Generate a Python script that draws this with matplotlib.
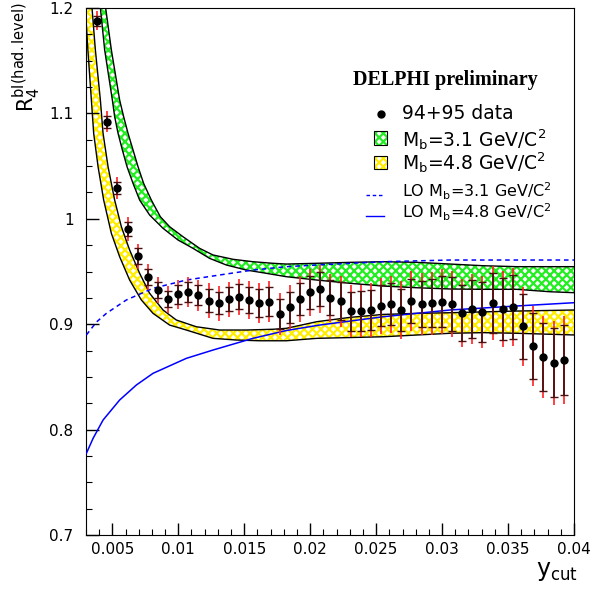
import numpy as np
import matplotlib
matplotlib.use("Agg")
import matplotlib.pyplot as plt
from matplotlib.patches import Rectangle
from matplotlib.ticker import MultipleLocator, FuncFormatter

plt.rcParams['hatch.linewidth'] = 1.6

# data points: R4 vs ycut
ycut = [0.00384, 0.00461, 0.00538, 0.00615, 0.00692, 0.00769, 0.00845, 0.00922,
        0.00999, 0.01076, 0.01153, 0.01230, 0.01307, 0.01384, 0.01461, 0.01538,
        0.01614, 0.01691, 0.01768, 0.01845, 0.01922, 0.01999, 0.02076, 0.02153,
        0.02230, 0.02307, 0.02383, 0.02460, 0.02537, 0.02614, 0.02691, 0.02768,
        0.02845, 0.02922, 0.02999, 0.03076, 0.03152, 0.03229, 0.03306, 0.03383,
        0.03460, 0.03537, 0.03614, 0.03691, 0.03768, 0.03845, 0.03922]
r4 = [1.1877, 1.0921, 1.0295, 0.9906, 0.9644, 0.9448, 0.9325, 0.9239,
      0.9284, 0.9303, 0.9274, 0.9223, 0.9201, 0.9239, 0.9261, 0.9227,
      0.9201, 0.9213, 0.9100, 0.9160, 0.9239, 0.9303, 0.9331, 0.9249,
      0.9220, 0.9122, 0.9125, 0.9132, 0.9176, 0.9189, 0.9135, 0.9217,
      0.9192, 0.9201, 0.9213, 0.9189, 0.9109, 0.9147, 0.9113, 0.9201,
      0.9144, 0.9166, 0.8980, 0.8790, 0.8686, 0.8635, 0.8658]
err_stat = [0.0052, 0.0057, 0.0057, 0.0066, 0.0076, 0.0076, 0.0076, 0.0079,
            0.0090, 0.0095, 0.0095, 0.0109, 0.0107, 0.0114, 0.0119, 0.0123,
            0.0133, 0.0138, 0.0142, 0.0147, 0.0152, 0.0157, 0.0161, 0.0166,
            0.0180, 0.0187, 0.0190, 0.0190, 0.0195, 0.0199, 0.0199, 0.0209,
            0.0218, 0.0228, 0.0242, 0.0256, 0.0266, 0.0275, 0.0285, 0.0289,
            0.0294, 0.0304, 0.0308, 0.0313, 0.0323, 0.0327, 0.0332]
err_tot = [0.0090, 0.0100, 0.0104, 0.0114, 0.0119, 0.0119, 0.0119, 0.0128,
           0.0139, 0.0142, 0.0145, 0.0166, 0.0166, 0.0166, 0.0171, 0.0180,
           0.0190, 0.0195, 0.0199, 0.0209, 0.0218, 0.0223, 0.0228, 0.0232,
           0.0242, 0.0247, 0.0251, 0.0256, 0.0266, 0.0270, 0.0275, 0.0285,
           0.0294, 0.0299, 0.0308, 0.0313, 0.0323, 0.0332, 0.0342, 0.0351,
           0.0361, 0.0370, 0.0375, 0.0380, 0.0389, 0.0398, 0.0417]

# Mb = 3.1 band edges
g_up_x = [0.004432, 0.004492, 0.004924, 0.005553, 0.005856, 0.006189, 0.006568, 0.006947,
          0.007371, 0.007955, 0.008636, 0.009341, 0.010356, 0.011614, 0.012629, 0.014144,
          0.015659, 0.017174, 0.018182, 0.020508, 0.02303, 0.02553, 0.02808, 0.03061,
          0.03311, 0.03566, 0.03818, 0.04]
g_up_y = [1.2076, 1.2000, 1.1602, 1.1127, 1.0969, 1.0811, 1.0653, 1.0494,
          1.0336, 1.0178, 1.0020, 0.9925, 0.9830, 0.9720, 0.9657, 0.9616,
          0.9593, 0.9578, 0.9571, 0.9578, 0.9587, 0.9593, 0.9587, 0.9571,
          0.9555, 0.9546, 0.9546, 0.9546]
g_lo_x = [0.00403, 0.004091, 0.004417, 0.005000, 0.005174, 0.005432, 0.005758, 0.006114,
          0.006568, 0.007068, 0.007826, 0.008841, 0.009977, 0.011114, 0.012371, 0.013636,
          0.015152, 0.016667, 0.018182, 0.020508, 0.02303, 0.02553, 0.02808, 0.03061,
          0.03311, 0.03566, 0.03818, 0.04]
g_lo_y = [1.2076, 1.2000, 1.1602, 1.1127, 1.0969, 1.0811, 1.0653, 1.0494,
          1.0336, 1.0178, 1.0036, 0.9910, 0.9799, 0.9720, 0.9625, 0.9562,
          0.9514, 0.9483, 0.9451, 0.9419, 0.9388, 0.9362, 0.9346, 0.9334,
          0.9331, 0.9331, 0.9308, 0.9299]

# Mb = 4.8 band edges
y_up_x = [0.003409, 0.003712, 0.004091, 0.004295, 0.004674, 0.005174, 0.005682, 0.00631,
          0.007068, 0.007826, 0.008841, 0.009848, 0.011364, 0.013129, 0.015152, 0.017174,
          0.018182, 0.020508, 0.02303, 0.02553, 0.02808, 0.03061, 0.03566, 0.04]
y_up_y = [1.2076, 1.1602, 1.1127, 1.0811, 1.0494, 1.0178, 0.9925, 0.9704,
          0.9483, 0.9293, 0.9135, 0.9040, 0.8976, 0.8945, 0.8945, 0.8952,
          0.8961, 0.9024, 0.9065, 0.9093, 0.9103, 0.9109, 0.9125, 0.9135]
y_lo_x = [0.002917, 0.003144, 0.003409, 0.003583, 0.003917, 0.004341, 0.004924, 0.005553,
          0.00631, 0.007197, 0.008083, 0.009341, 0.010606, 0.012629, 0.014394, 0.016159,
          0.018182, 0.020508, 0.02553, 0.03061, 0.03311, 0.03566, 0.04]
y_lo_y = [1.2076, 1.1602, 1.1127, 1.0811, 1.0494, 1.0178, 0.9862, 0.9640,
          0.9419, 0.9230, 0.9103, 0.8992, 0.8945, 0.8866, 0.8850, 0.8843,
          0.8843, 0.8866, 0.8881, 0.8914, 0.8920, 0.8914, 0.8898]

# LO curves
lo31_x = [0.00303, 0.003788, 0.004545, 0.006061, 0.008083, 0.010606, 0.013129, 0.015659,
          0.018182, 0.020508, 0.02553, 0.03061, 0.04]
lo31_y = [0.8898, 0.9020, 0.9103, 0.9230, 0.9341, 0.9419, 0.9467, 0.9514,
          0.9546, 0.9562, 0.9593, 0.9609, 0.9609]
lo48_x = [0.00303, 0.003538, 0.004295, 0.005553, 0.006818, 0.008083, 0.010606, 0.012629,
          0.015659, 0.018182, 0.020705, 0.02553, 0.03061, 0.03566, 0.04]
lo48_y = [0.7775, 0.7917, 0.8091, 0.8281, 0.8423, 0.8534, 0.8676, 0.8755,
          0.8866, 0.8940, 0.8992, 0.9071, 0.9135, 0.9173, 0.9204]

green = '#22ee22'
yellow = '#ffee00'

fig = plt.figure(figsize=(5.93, 5.94), dpi=100)
ax = fig.add_axes([0.1450, 0.0993, 0.8229, 0.8872])

def band(xu, yu, xl, yl, col):
    px = list(xu) + list(xl)[::-1]
    py = list(yu) + list(yl)[::-1]
    ax.fill(px, py, facecolor='white', edgecolor=col, hatch='xxxx', lw=0, zorder=1)
    ax.plot(xu, yu, color='black', lw=1.0, zorder=2)
    ax.plot(xl, yl, color='black', lw=1.0, zorder=2)

band(g_up_x, g_up_y, g_lo_x, g_lo_y, green)
band(y_up_x, y_up_y, y_lo_x, y_lo_y, yellow)

ax.plot(lo31_x, lo31_y, color='#0000ff', lw=1.1, ls=(0, (3, 2.5)), zorder=3)
ax.plot(lo48_x, lo48_y, color='#0000ff', lw=1.1, zorder=3)

# total errors (red) then stat errors (dark) with caps
ax.errorbar(ycut, r4, yerr=err_tot, fmt='none', ecolor='#ff2020', elinewidth=1.2, zorder=4)
eb = ax.errorbar(ycut, r4, yerr=err_stat, fmt='none', ecolor='#4a1010', elinewidth=1.3,
                 capsize=2.6, capthick=1.0, zorder=5)
for c in eb[1]:
    c.set_color('black')
ax.plot(ycut, r4, 'o', color='black', ms=5, zorder=6)

ax.set_xlim(0.003, 0.04)
ax.set_ylim(0.7, 1.2)
ax.xaxis.set_major_locator(MultipleLocator(0.005))
ax.xaxis.set_minor_locator(MultipleLocator(0.001))
ax.yaxis.set_major_locator(MultipleLocator(0.1))
ax.yaxis.set_minor_locator(MultipleLocator(0.025))
fmt = FuncFormatter(lambda v, p: '%g' % round(v, 4))
ax.xaxis.set_major_formatter(fmt)
ax.yaxis.set_major_formatter(fmt)
ax.tick_params(which='both', direction='in', top=False, right=False, labelsize=11)
ax.tick_params(which='major', length=9, width=1)
ax.tick_params(which='minor', length=4.5, width=0.8)
ax.tick_params(axis='y', pad=9)
ax.tick_params(axis='x', pad=5)

# legend drawn by hand
T = ax.transAxes
ax.text(0.7357, 0.8634, 'DELPHI preliminary', transform=T, ha='center', va='center',
        family='Liberation Serif', weight='bold', fontsize=14.5)
ax.plot([0.6045], [0.7989], 'o', color='black', ms=5, transform=T)
for yb, col in [(0.7410, green), (0.6936, yellow)]:
    ax.add_patch(Rectangle((0.5912, yb), 0.0266, 0.0247, transform=T, facecolor='white',
                           edgecolor=col, hatch='xxxx', lw=0))
    ax.add_patch(Rectangle((0.5912, yb), 0.0266, 0.0247, transform=T, fill=False,
                           edgecolor='black', lw=0.8))
ax.plot([0.5738, 0.6107], [0.6450, 0.6450], color='#0000ff', lw=1.0, ls=(0, (2.5, 2)),
        transform=T)
ax.plot([0.5738, 0.6107], [0.6060, 0.6060], color='#0000ff', lw=1.0, transform=T)
lx = 0.6475
ax.text(lx, 0.7989, '94+95 data', transform=T, va='center', fontsize=13.5)
ax.text(lx, 0.7495, r'M$_\mathregular{b}$=3.1 GeV/C$^\mathregular{2}$', transform=T,
        va='center', fontsize=13.5)
ax.text(lx, 0.7059, r'M$_\mathregular{b}$=4.8 GeV/C$^\mathregular{2}$', transform=T,
        va='center', fontsize=13.5)
ax.text(lx, 0.6400, r'LO M$_\mathregular{b}$=3.1 GeV/C$^\mathregular{2}$', transform=T,
        va='baseline', fontsize=11.5)
ax.text(lx, 0.6010, r'LO M$_\mathregular{b}$=4.8 GeV/C$^\mathregular{2}$', transform=T,
        va='baseline', fontsize=11.5)

fig.text(0.045, 0.997, r'$\mathregular{R_4^{bl(had.level)}}$', rotation=90, ha='center',
         va='top', fontsize=15)
fig.text(0.975, 0.018, r'$\mathregular{y_{cut}}$', ha='right', va='bottom', fontsize=17)

fig.savefig('out.png', dpi=100)
